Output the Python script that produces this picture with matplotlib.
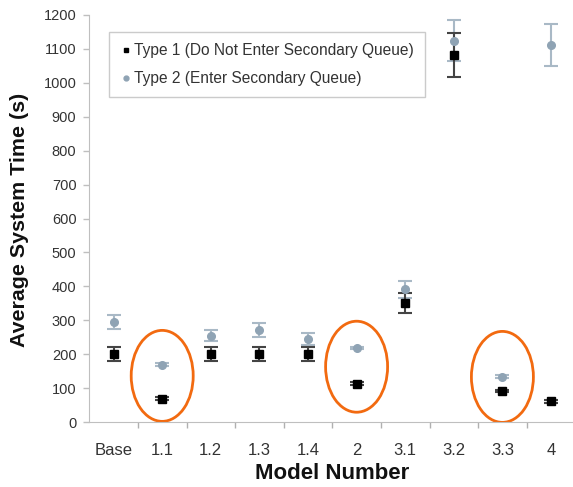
import numpy as np
import matplotlib
matplotlib.use('Agg')
import matplotlib.pyplot as plt
from matplotlib.patches import Ellipse
from matplotlib.lines import Line2D

plt.rcParams['font.family'] = ['Liberation Sans', 'DejaVu Sans']

# category labels on the x axis
models = ['Base', '1.1', '1.2', '1.3', '1.4', '2', '3.1', '3.2', '3.3', '4']

# Type 1 (black squares) mean and half-width of error bar
type1_mean = [200, 69, 200, 200, 200, 113, 350, 1082, 91, 61]
type1_err = [20, 4, 20, 20, 20, 4, 30, 65, 4, 4]

# Type 2 (grey circles)
type2_mean = [295, 169, 255, 272, 245, 218, 392, 1124, 134, 1111]
type2_err = [20, 4, 16, 20, 17, 4, 25, 60, 4, 62]

# circled models (index into models) and vertical centre of each circle
circled = [1, 5, 8]
circle_y = [136, 163, 133]

W, H = 573, 487
fig = plt.figure(figsize=(W / 100, H / 100), dpi=100)
ax = fig.add_axes([89.3 / W, 65 / H, 486 / W, (422 - 15) / H])

grey = '#bfbfbf'
txt = '#333333'
xi = np.arange(len(models))
ax.set_ylim(0, 1200)
ax.set_yticks(range(0, 1201, 100))
ax.set_xlim(-0.5, len(models) - 0.5)
# boundaries get the tick marks, category centres get the labels
ax.set_xticks(xi[1:] - 0.5)
ax.set_xticks(xi, minor=True)
ax.set_xticklabels(models, minor=True)
ax.tick_params(axis='x', which='major', labelbottom=False, bottom=True, length=4,
               width=1, color='#b0b0b0')
ax.tick_params(axis='x', which='minor', length=0, pad=15, labelsize=12, labelcolor=txt)
ax.tick_params(axis='y', length=4.3, width=1, color=grey, labelsize=10.5, labelcolor=txt,
               pad=5)
for s in ['top', 'right']:
    ax.spines[s].set_visible(False)
for s in ['left', 'bottom']:
    ax.spines[s].set_color(grey)
ax.set_xlabel('Model Number', fontsize=16, fontweight='bold', labelpad=4, color='#111111')
ax.set_ylabel('Average System Time (s)', fontsize=15.4, fontweight='bold', color='#111111')
ax.yaxis.set_label_coords(-0.124, 0.496)

t2_color = '#8fa3b4'
ax.errorbar(xi, type2_mean, yerr=type2_err, fmt='o', color=t2_color, ms=5.5,
            ecolor='#a9b9c6', elinewidth=1.5, capsize=5, capthick=1.5)
ax.errorbar(xi, type1_mean, yerr=type1_err, fmt='s', color='black', ms=6,
            ecolor='#444444', elinewidth=1.5, capsize=5, capthick=1.5)

for c, cy in zip(circled, circle_y):
    ax.add_patch(Ellipse((c, cy), width=62 / 48.6, height=91 / 0.3392,
                         fill=False, edgecolor='#f26a10', lw=2))

handles = [Line2D([], [], ls='none', marker='s', color='black', ms=3.5),
           Line2D([], [], ls='none', marker='o', color=t2_color, ms=3.5)]
labels = ['Type 1 (Do Not Enter Secondary Queue)', 'Type 2 (Enter Secondary Queue)']
leg = ax.legend(handles, labels, loc='upper left', bbox_to_anchor=(0.0405, 0.958),
                borderaxespad=0, fancybox=False, edgecolor=grey, fontsize=11.2,
                handletextpad=0.1, handlelength=0.8, borderpad=0.7, labelspacing=0.85)
leg.get_frame().set_linewidth(1)
for t in leg.get_texts():
    t.set_color(txt)

fig.savefig('out.png', dpi=100)
